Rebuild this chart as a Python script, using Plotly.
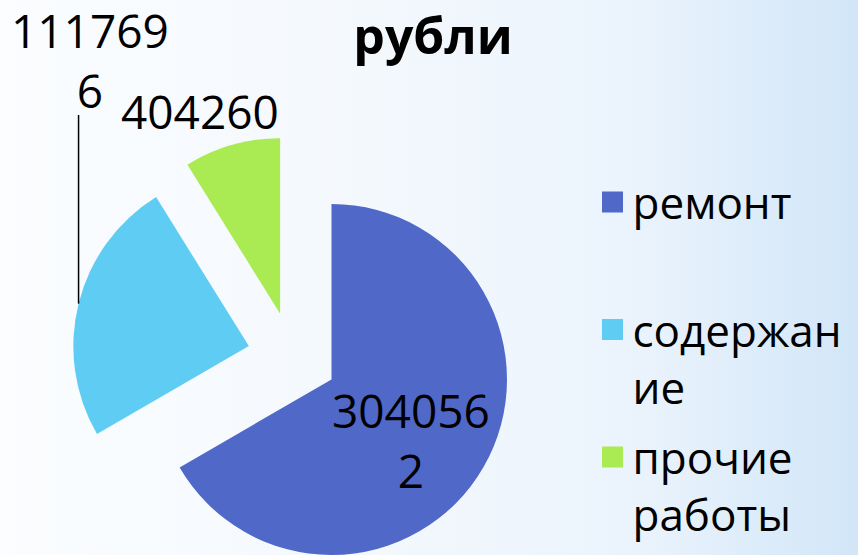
import math
import plotly.graph_objects as go

# ---- data ----
categories = ["ремонт", "содержание", "прочие работы"]
values = [3040562, 1117696, 404260]
legend_names = ["ремонт<br>\u00a0", "содержан<br>ие", "прочие<br>работы"]
colors = ["#5068C8", "#5FCDF3", "#AAEA52"]
title_text = "рубли"

W, H = 858, 555
FONT = "Open Sans"

# pie geometry (pixels)
CX, CY = 292.5, 357.0
R = 175.5
PULL_PX = 45.0

total = float(sum(values))
fig = go.Figure()

# background gradient (decoration on hidden axes)
fig.add_trace(go.Scatter(
    x=[0, 1, 1, 0, 0], y=[0, 0, 1, 1, 0], mode="lines", fill="toself",
    line=dict(width=0, color="rgba(0,0,0,0)"),
    fillgradient=dict(type="horizontal",
                      colorscale=[[0, "#fbfdff"], [0.45, "#f3f8fd"], [0.75, "#eaf3fc"], [1, "#d2e6f8"]]),
    hoverinfo="skip", showlegend=False))

cum = 0.0
mids = []
for i, v in enumerate(values):
    mid = (cum + v / 2.0) / total * 2 * math.pi
    cum += v
    dx, dy = math.sin(mid), -math.cos(mid)
    cx, cy = CX + PULL_PX * dx, CY + PULL_PX * dy
    mids.append((dx, dy))
    dom_x = [max(0.0, (cx - R) / W), min(1.0, (cx + R) / W)]
    dom_y = [max(0.0, 1 - (cy + R) / H), min(1.0, 1 - (cy - R) / H)]
    slice_colors = [colors[j] if j == i else "rgba(0,0,0,0)" for j in range(len(values))]
    fig.add_trace(go.Pie(
        labels=categories, values=values, sort=False, direction="clockwise", rotation=0,
        marker=dict(colors=slice_colors, line=dict(width=0)),
        textinfo="none", hoverinfo="skip", showlegend=False,
        domain=dict(x=dom_x, y=dom_y)))

# legend entries
for i, name in enumerate(legend_names):
    fig.add_trace(go.Scatter(
        x=[None], y=[None], mode="markers", name=name,
        marker=dict(symbol="square", size=16, color=colors[i], line=dict(width=5, color=colors[i])),
        legendgroup=str(i), showlegend=True))

def fmt(v):
    s = str(v)
    return s[:6] + ("<br>" + s[6:] if len(s) > 6 else "")

# value labels (pixel positions)
label_pos = [(411, 440), (90, 60), (200, 111)]
annotations = []
for i, v in enumerate(values):
    px, py = label_pos[i]
    annotations.append(dict(
        x=px / W, y=1 - py / H, xref="paper", yref="paper", text=fmt(v), showarrow=False,
        xanchor="center", yanchor="middle", align="center",
        font=dict(family=FONT, size=46, color="black")))

# leader line for 'содержание' label
tip_x = CX + (PULL_PX + R) * mids[1][0]
tip_y = CY + (PULL_PX + R) * mids[1][1]
shapes = [dict(type="line", xref="paper", yref="paper",
               x0=tip_x / W, x1=tip_x / W, y0=1 - tip_y / H, y1=1 - 115 / H,
               line=dict(color="black", width=1.5))]

fig.update_layout(
    width=W, height=H, margin=dict(l=0, r=0, t=0, b=0),
    paper_bgcolor="#f4f8fd", plot_bgcolor="rgba(0,0,0,0)",
    xaxis=dict(range=[0, 1], visible=False, fixedrange=True, domain=[0, 1]),
    yaxis=dict(range=[0, 1], visible=False, fixedrange=True, domain=[0, 1]),
    title=dict(text=title_text, x=433 / W, y=1 - 36.8 / H, xanchor="center", yanchor="middle",
               font=dict(family=FONT, size=50, color="black", weight=700)),
    legend=dict(x=592.5 / W, y=1 - 167 / H, xanchor="left", yanchor="top",
                font=dict(family=FONT, size=44, color="black"),
                bgcolor="rgba(0,0,0,0)", valign="top", tracegroupgap=10,
                itemclick=False, itemdoubleclick=False),
    annotations=annotations, shapes=shapes,
    showlegend=True,
)

fig.write_html("out.html", config={"displayModeBar": False},
               post_script="document.body.style.margin='0';document.body.style.overflow='hidden';")
